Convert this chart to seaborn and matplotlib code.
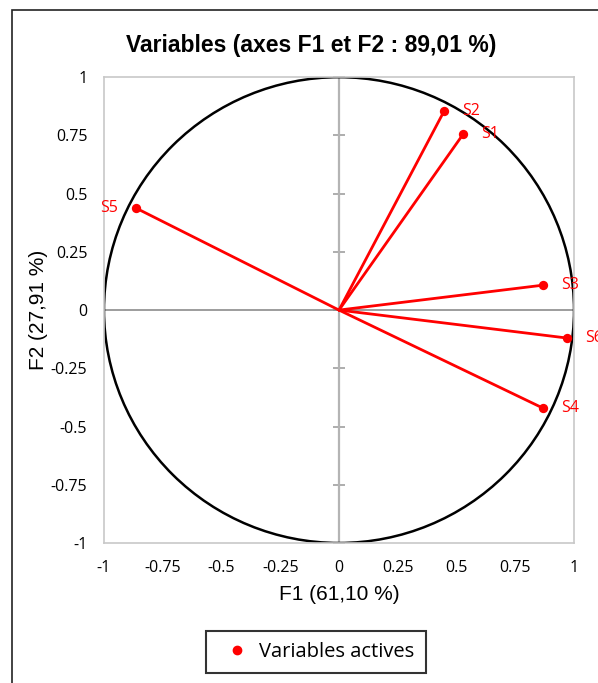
import numpy as np
import pandas as pd
import matplotlib
matplotlib.use("Agg")
import matplotlib.pyplot as plt
import seaborn as sns
from matplotlib.patches import Circle, Rectangle

# Coordinates of the active variables on F1 / F2
variables = ['S1', 'S2', 'S3', 'S4', 'S5', 'S6']
f1 = [0.528, 0.447, 0.868, 0.868, -0.864, 0.970]
f2 = [0.755, 0.854, 0.107, -0.421, 0.438, -0.120]
ticks = [-1, -0.75, -0.5, -0.25, 0, 0.25, 0.5, 0.75, 1]
tick_labels = ['-1', '-0.75', '-0.5', '-0.25', '0', '0.25', '0.5', '0.75', '1']

df = pd.DataFrame({'var': variables, 'F1': f1, 'F2': f2})

sns.set_style('white')
plt.rcParams['font.family'] = ['Liberation Sans', 'DejaVu Sans']
plt.rcParams['text.color'] = 'black'
plt.rcParams['axes.labelcolor'] = 'black'
plt.rcParams['xtick.color'] = 'black'
plt.rcParams['ytick.color'] = 'black'

fig = plt.figure(figsize=(5.98, 6.83), dpi=100)
ax = fig.add_axes([0.1739, 0.205, 0.786, 0.682])

# unit circle
ax.add_patch(Circle((0, 0), 1, fill=False, color='black', lw=1.8, zorder=2))

# vectors from origin
for _, r in df.iterrows():
    ax.plot([0, r['F1']], [0, r['F2']], color='red', lw=2, zorder=3)
sns.scatterplot(data=df, x='F1', y='F2', color='red', s=45, edgecolor='red',
                linewidth=0, zorder=4, ax=ax, legend=False)

# point labels
for _, r in df.iterrows():
    if r['F1'] < 0:
        ax.annotate(r['var'], (r['F1'], r['F2']), xytext=(-13, 0), textcoords='offset points',
                    ha='right', va='center', color='red', fontsize=11.5, family='Open Sans',
                    annotation_clip=False)
    else:
        ax.annotate(r['var'], (r['F1'], r['F2']), xytext=(13, 0), textcoords='offset points',
                    ha='left', va='center', color='red', fontsize=11.5, family='Open Sans',
                    annotation_clip=False)

ax.set_xlim(-1, 1)
ax.set_ylim(-1, 1)
ax.set_xticks(ticks)
ax.set_yticks(ticks)
ax.set_xticklabels(tick_labels, family='Open Sans', fontsize=11.5)
ax.set_yticklabels(tick_labels, family='Open Sans', fontsize=11.5)
ax.tick_params(length=0, pad=12)
for s in ax.spines.values():
    s.set_color('#c8c8c8')
    s.set_linewidth(1.2)

# centre axes: horizontal line plain, vertical line with cross ticks
ax.axhline(0, color='#8c8c8c', lw=1.2, zorder=1)
ax.axvline(0, color='#b4b4b4', lw=1.6, zorder=1)
sy = ax.secondary_yaxis(0.5)
sy.set_yticks(ticks)
sy.tick_params(direction='inout', length=9, width=1.2, color='#a0a0a0',
               labelleft=False, labelright=False)
sy.spines['left'].set_visible(False)
sy.spines['right'].set_visible(False)
sy.set_yticklabels([])

ax.set_xlabel('F1 (61,10 %)', fontsize=15, labelpad=7)
ax.set_ylabel('F2 (27,91 %)', fontsize=15, labelpad=2)
fig.text(0.52, 0.933, 'Variables (axes F1 et F2 : 89,01 %)', ha='center', va='center',
         fontsize=16.5, fontweight='bold')

leg = fig.legend(handles=[plt.Line2D([], [], marker='o', color='red', ls='none', markersize=6)],
                 labels=['Variables actives'], loc='center', bbox_to_anchor=(0.528, 0.045),
                 frameon=True, fancybox=False, edgecolor='black', borderpad=0.55,
                 handletextpad=0.1, prop={'family': 'Open Sans', 'size': 14.5})
leg.get_frame().set_linewidth(1.5)

# outer chart border
fig.patches.append(Rectangle((0.02, -0.1), 1.2, 1.085, transform=fig.transFigure,
                             fill=False, edgecolor='#222222', lw=1.2))

fig.savefig('out.png', dpi=100)
